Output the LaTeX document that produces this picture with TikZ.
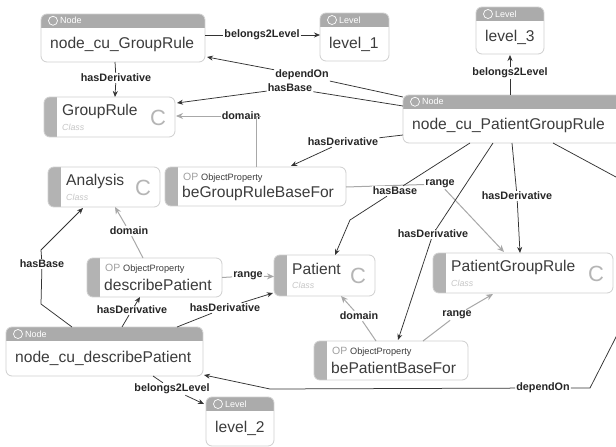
\documentclass[tikz,border=0pt]{standalone}
\usepackage{fontspec}
\setmainfont{Liberation Sans}
\usetikzlibrary{arrows.meta,calc,fit}
\definecolor{hdr}{HTML}{ABABAB}
\definecolor{bord}{HTML}{CFCFCF}
\definecolor{txt}{HTML}{3C3C3C}
\definecolor{ltxt}{HTML}{C6C6C6}
\definecolor{cgray}{HTML}{B5B5B5}
\definecolor{bargray}{HTML}{B3B3B3}
\definecolor{edgegray}{HTML}{A8A8A8}
\definecolor{oplight}{HTML}{A0A0A0}
\tikzset{
  boxline/.style={draw=bord, line width=0.8pt, rounded corners=6pt, inner sep=0pt, outer sep=0pt},
  maintxt/.style={inner sep=0pt, text=txt, font=\fontsize{15.6}{16}\selectfont},
  hdrtxt/.style={inner sep=0pt, text=white, font=\fontsize{9}{9}\selectfont},
  classtxt/.style={inner sep=0pt, text=ltxt, font=\itshape\fontsize{8.8}{9}\selectfont},
  ctxt/.style={inner sep=0pt, text=cgray, font=\fontsize{22}{22}\selectfont},
  lbl/.style={fill=white, inner sep=1pt, text=black!85, font=\bfseries\fontsize{10.8}{11}\selectfont},
  blk/.style={draw=black!80, line width=0.75pt, -{Stealth[length=6pt,width=5pt]}},
  gry/.style={draw=edgegray, line width=1pt, -{Stealth[length=7pt,width=6pt]}},
}
\newcommand{\hdrbox}[8]{%
  \begin{scope}
    \clip[rounded corners=6pt] (#2,#3) rectangle (#4,#5);
    \fill[white] (#2,#3) rectangle (#4,#5);
    \fill[hdr] (#2,#3) rectangle (#4,#6);
  \end{scope}
  \node[boxline, fit={(#2,#3) (#4,#5)}] (#1) {};
  \draw[white, line width=0.7pt] (#2+12,{(#3+#6)/2}) circle (4.5pt);
  \node[hdrtxt, anchor=west] at (#2+19,{(#3+#6)/2}) {#7};
  \node[maintxt, anchor=west] at (#2+9,{(#6+#5)/2}) {#8};
}
\newcommand{\clsbox}[6]{%
  \begin{scope}
    \clip[rounded corners=6pt] (#2,#3) rectangle (#4,#5);
    \fill[white] (#2,#3) rectangle (#4,#5);
    \fill[bargray] (#2,#3) rectangle (#2+13,#5);
  \end{scope}
  \node[boxline, fit={(#2,#3) (#4,#5)}] (#1) {};
  \node[maintxt, anchor=west] at (#2+18,#3+14) {#6};
  \node[classtxt, anchor=west] at (#2+18,#3+30) {Class};
  \node[ctxt] at (#4-17,#3+21) {C};
}
\newcommand{\opbox}[6]{%
  \begin{scope}
    \clip[rounded corners=6pt] (#2,#3) rectangle (#4,#5);
    \fill[white] (#2,#3) rectangle (#4,#5);
    \fill[bargray] (#2,#3) rectangle (#2+13,#5);
  \end{scope}
  \node[boxline, fit={(#2,#3) (#4,#5)}] (#1) {};
  \node[inner sep=0pt, anchor=west] at (#2+18,#3+11) {\textcolor{oplight}{\fontsize{10.5}{11}\selectfont OP} \textcolor{txt}{\fontsize{9.2}{10}\selectfont ObjectProperty}};
  \node[maintxt, anchor=west] at (#2+17,#3+26.5) {#6};
}
\begin{document}
\begin{tikzpicture}[x=1pt,y=-1pt]
\useasboundingbox (0,0) rectangle (616,447);
\clip (0,0) rectangle (616,447);
\fill[white] (0,0) rectangle (616,447);

% boxes
\hdrbox{ncuGR}{41}{14}{205}{62}{27.5}{Node}{node\_cu\_GroupRule}
\hdrbox{lvlA}{320}{13}{389}{61}{27}{Level}{level\_1}
\hdrbox{lvlC}{476}{7}{544}{54}{21}{Level}{level\_3}
\hdrbox{ncuPGR}{403}{95}{632}{143}{108.5}{Node}{node\_cu\_PatientGroupRule}
\clsbox{GR}{44}{97}{175}{137}{GroupRule}
\clsbox{An}{48}{167}{160}{207}{Analysis}
\opbox{bGRBF}{165}{167}{346}{206}{beGroupRuleBaseFor}
\opbox{dP}{87}{258}{222}{297}{describePatient}
\clsbox{Pat}{274}{255}{375}{296}{Patient}
\clsbox{PGRc}{433}{253}{613}{293}{PatientGroupRule}
\hdrbox{ncuDP}{6}{327}{203}{376}{341}{Node}{node\_cu\_describePatient}
\hdrbox{lvlB}{206}{397}{274}{446}{411}{Level}{level\_2}
\opbox{bPBF}{314}{341}{468}{380}{bePatientBaseFor}

% gray edges first
\node[lbl] (rg1) at (440,184) {range};
\draw[gry] ($(bGRBF.east)+(0,0.5)$) -- (rg1) -- ($(PGRc.north west)+(71,-1)$);
\node[lbl] (dom1) at (241,116) {domain};
\draw[gry] ($(bGRBF.north west)+(91,0)$) |- (dom1) -- ($(GR.east)+(1,-1)$);
\node[lbl] (dom2) at (129,231) {domain};
\draw[gry] ($(dP.north west)+(56,0)$) -- (dom2) -- ($(An.south west)+(67,0)$);
\node[lbl] (rg2) at (248,276) {range};
\draw[gry] (dP.east) -- (rg2) -- ($(Pat.west)+(0,1)$);
\node[lbl] (dom3) at (359,316) {domain};
\draw[gry] ($(bPBF.north west)+(62,0)$) -- (dom3) -- ($(Pat.south west)+(67,0)$);
\node[lbl] (rg3) at (457,315) {range};
\draw[gry] ($(bPBF.north west)+(109,0)$) -- (rg3) -- ($(PGRc.south west)+(60,1)$);

% black edges
\node[lbl] (bl1) at (262,35) {belongs2Level};
\draw[blk] ([yshift=3pt]ncuGR.east) -- (bl1) -- ([yshift=2pt]lvlA.west);
\node[lbl] (hd0) at (116,78) {hasDerivative};
\draw[blk] ($(ncuGR.south west)+(74,0)$) -- (hd0) -- ($(GR.north west)+(71,0)$);
\node[lbl] (dep1) at (302,75) {dependOn};
\draw[blk] ($(ncuPGR.north west)+(0,2)$) -- (dep1) -- ($(ncuGR.south east)+(2,-5)$);
\node[lbl] (hb1) at (290,88) {hasBase};
\draw[blk] ($(ncuPGR.north west)+(0,11)$) -- (hb1) -- ($(GR.north east)+(2,6)$);
\node[lbl] (bl3) at (510,73) {belongs2Level};
\draw[blk] ($(ncuPGR.north west)+(107,0)$) -- (bl3) -- ($(lvlC.south west)+(34,1)$);
\node[lbl] (hd1) at (343,142) {hasDerivative};
\draw[blk] ($(ncuPGR.south west)+(0,-8)$) -- (hd1) -- ($(bGRBF.north west)+(126,-1)$);
\node[lbl] (hb2) at (395,191) {hasBase};
\draw[blk] ($(ncuPGR.south west)+(67,0)$) -- (hb2) -- (350,220) -- ($(Pat.north west)+(61,0)$);
\node[lbl] (hd2) at (433,234) {hasDerivative};
\draw[blk] ($(ncuPGR.south west)+(90,0)$) -- (hd2) -- ($(bPBF.north west)+(84,-1)$);
\node[lbl] (hd4) at (517,196) {hasDerivative};
\draw[blk] ($(ncuPGR.south west)+(109,0)$) -- (hd4) -- ($(PGRc.north west)+(87,0)$);
\node[lbl] (dep2) at (543,388) {dependOn};
\draw[blk] ($(ncuPGR.south west)+(150,0)$) -- (640,190) -- (640,290) -- (590,388) -- (dep2) -- (270,389) -- ($(ncuDP.south east)+(1,-1)$);
\node[lbl] (hb3) at (42,264) {hasBase};
\draw[blk] ($(ncuDP.north west)+(66,0)$) -- (41,304) -- (hb3) -- (41,250) -- ($(An.south west)+(35,1)$);
\node[lbl] (hd3) at (132,310) {hasDerivative};
\draw[blk] ($(ncuDP.north west)+(116,0)$) -- (hd3) -- ($(dP.south west)+(53,0)$);
\node[lbl] (hd5) at (225,308) {hasDerivative};
\draw[blk] ($(ncuDP.north west)+(171,0)$) -- (hd5) -- ($(Pat.south west)+(-1,-3)$);
\node[lbl] (bl2) at (172,389) {belongs2Level};
\draw[blk] ($(ncuDP.south west)+(147,0)$) -- (bl2) -- ($(lvlB.north west)+(-2,7)$);
\end{tikzpicture}
\end{document}
